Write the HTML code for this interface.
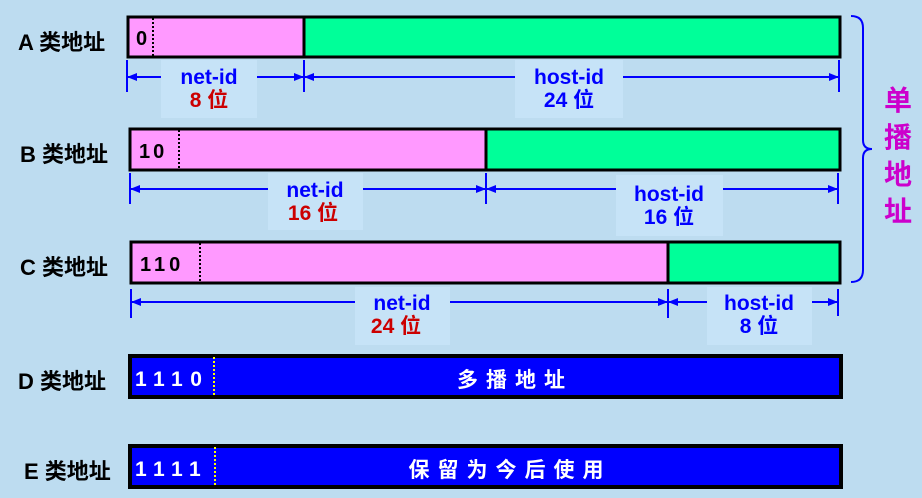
<!DOCTYPE html>
<html><head><meta charset="utf-8"><style>
html,body{margin:0;padding:0;background:#bddcf0;}
svg{display:block;}
text{font-family:"Liberation Sans","Noto Sans CJK SC",sans-serif;font-weight:bold;}
</style></head><body>
<svg width="922" height="498" viewBox="0 0 922 498" xmlns="http://www.w3.org/2000/svg">
<defs>
<marker id="ar" markerWidth="10" markerHeight="8" refX="9" refY="4" orient="auto" markerUnits="userSpaceOnUse"><path d="M0,0 L10,4 L0,8 z" fill="#0000ff"/></marker>
</defs>
<rect width="922" height="498" fill="#bddcf0"/>
<g font-size="22" fill="#000">
<text x="18" y="50">A 类地址</text>
<text x="20" y="162">B 类地址</text>
<text x="20" y="275">C 类地址</text>
<text x="18" y="389">D 类地址</text>
<text x="24" y="479">E 类地址</text>
</g>
<!-- A -->
<rect x="128" y="17" width="176" height="40" fill="#ff99ff" stroke="#000" stroke-width="3"/>
<rect x="304" y="17" width="536" height="40" fill="#00ff99" stroke="#000" stroke-width="3"/>
<line x1="153" y1="18" x2="153" y2="56" stroke="#000" stroke-width="2" stroke-dasharray="2,2"/>
<text x="136" y="45" font-size="20">0</text>
<!-- B -->
<rect x="130" y="129" width="356" height="41" fill="#ff99ff" stroke="#000" stroke-width="3"/>
<rect x="486" y="129" width="354" height="41" fill="#00ff99" stroke="#000" stroke-width="3"/>
<line x1="179" y1="130" x2="179" y2="169" stroke="#000" stroke-width="2" stroke-dasharray="2,2"/>
<text x="139" y="158" font-size="20" letter-spacing="3">10</text>
<!-- C -->
<rect x="131" y="242" width="537" height="41" fill="#ff99ff" stroke="#000" stroke-width="3"/>
<rect x="668" y="242" width="172" height="41" fill="#00ff99" stroke="#000" stroke-width="3"/>
<line x1="200" y1="243" x2="200" y2="282" stroke="#000" stroke-width="2" stroke-dasharray="2,2"/>
<text x="140" y="271" font-size="20" letter-spacing="4">110</text>
<!-- D -->
<rect x="130" y="356" width="711" height="41" fill="#0000ff" stroke="#000" stroke-width="4"/>
<line x1="214" y1="357" x2="214" y2="396" stroke="#ffff00" stroke-width="2" stroke-dasharray="2,2"/>
<text x="135" y="386" font-size="21" fill="#fff" letter-spacing="7.5">1110</text>
<text x="515" y="387" font-size="21" fill="#fff" text-anchor="middle" letter-spacing="8">多播地址</text>
<!-- E -->
<rect x="130" y="446" width="711" height="41" fill="#0000ff" stroke="#000" stroke-width="4"/>
<line x1="215" y1="447" x2="215" y2="486" stroke="#ffff00" stroke-width="2" stroke-dasharray="2,2"/>
<text x="135" y="476" font-size="21" fill="#fff" letter-spacing="7.5">1111</text>
<text x="510" y="477" font-size="21" fill="#fff" text-anchor="middle" letter-spacing="8">保留为今后使用</text>

<g stroke="#0000ff" stroke-width="2">
<line x1="127" y1="60" x2="127" y2="92"/><line x1="304" y1="60" x2="304" y2="92"/><line x1="839" y1="60" x2="839" y2="92"/>
<line x1="128" y1="77" x2="303" y2="77" marker-end="url(#ar)"/><line x1="303" y1="77" x2="128" y2="77" marker-end="url(#ar)"/>
<line x1="305" y1="77" x2="838" y2="77" marker-end="url(#ar)"/><line x1="838" y1="77" x2="305" y2="77" marker-end="url(#ar)"/>
<line x1="130" y1="173" x2="130" y2="204"/><line x1="486" y1="173" x2="486" y2="204"/><line x1="838" y1="173" x2="838" y2="204"/>
<line x1="131" y1="189" x2="485" y2="189" marker-end="url(#ar)"/><line x1="485" y1="189" x2="131" y2="189" marker-end="url(#ar)"/>
<line x1="487" y1="189" x2="837" y2="189" marker-end="url(#ar)"/><line x1="837" y1="189" x2="487" y2="189" marker-end="url(#ar)"/>
<line x1="131" y1="289" x2="131" y2="318"/><line x1="668" y1="289" x2="668" y2="318"/><line x1="838" y1="289" x2="838" y2="316"/>
<line x1="132" y1="302" x2="667" y2="302" marker-end="url(#ar)"/><line x1="667" y1="302" x2="132" y2="302" marker-end="url(#ar)"/>
<line x1="669" y1="302" x2="837" y2="302" marker-end="url(#ar)"/><line x1="837" y1="302" x2="669" y2="302" marker-end="url(#ar)"/>
<path d="M851,16 Q863,16 863,28 L863,140 Q863,149 872,149 Q863,149 863,158 L863,270 Q863,282 851,282" fill="none"/>
</g>
<g fill="#c6e3f7">
<rect x="161" y="60" width="96" height="58"/>
<rect x="515" y="60" width="108" height="58"/>
<rect x="268" y="173" width="95" height="57"/>
<rect x="616" y="175" width="107" height="61"/>
<rect x="355" y="287" width="95" height="58"/>
<rect x="707" y="287" width="105" height="58"/>
</g>
<g font-size="21" text-anchor="middle">
<text x="209" y="84" fill="#0000ff">net-id</text><text x="209" y="107" fill="#cc0000">8 位</text>
<text x="569" y="84" fill="#0000ff">host-id</text><text x="569" y="107" fill="#0000ff">24 位</text>
<text x="315" y="197" fill="#0000ff">net-id</text><text x="313" y="220" fill="#cc0000">16 位</text>
<text x="669" y="201" fill="#0000ff">host-id</text><text x="669" y="224" fill="#0000ff">16 位</text>
<text x="402" y="310" fill="#0000ff">net-id</text><text x="396" y="333" fill="#cc0000">24 位</text>
<text x="759" y="310" fill="#0000ff">host-id</text><text x="759" y="333" fill="#0000ff">8 位</text>
</g>
<g font-size="28" fill="#cc00cc" text-anchor="middle">
<text x="898" y="110">单</text><text x="898" y="147">播</text><text x="898" y="184">地</text><text x="898" y="221">址</text>
</g>
</svg>
</body></html>
